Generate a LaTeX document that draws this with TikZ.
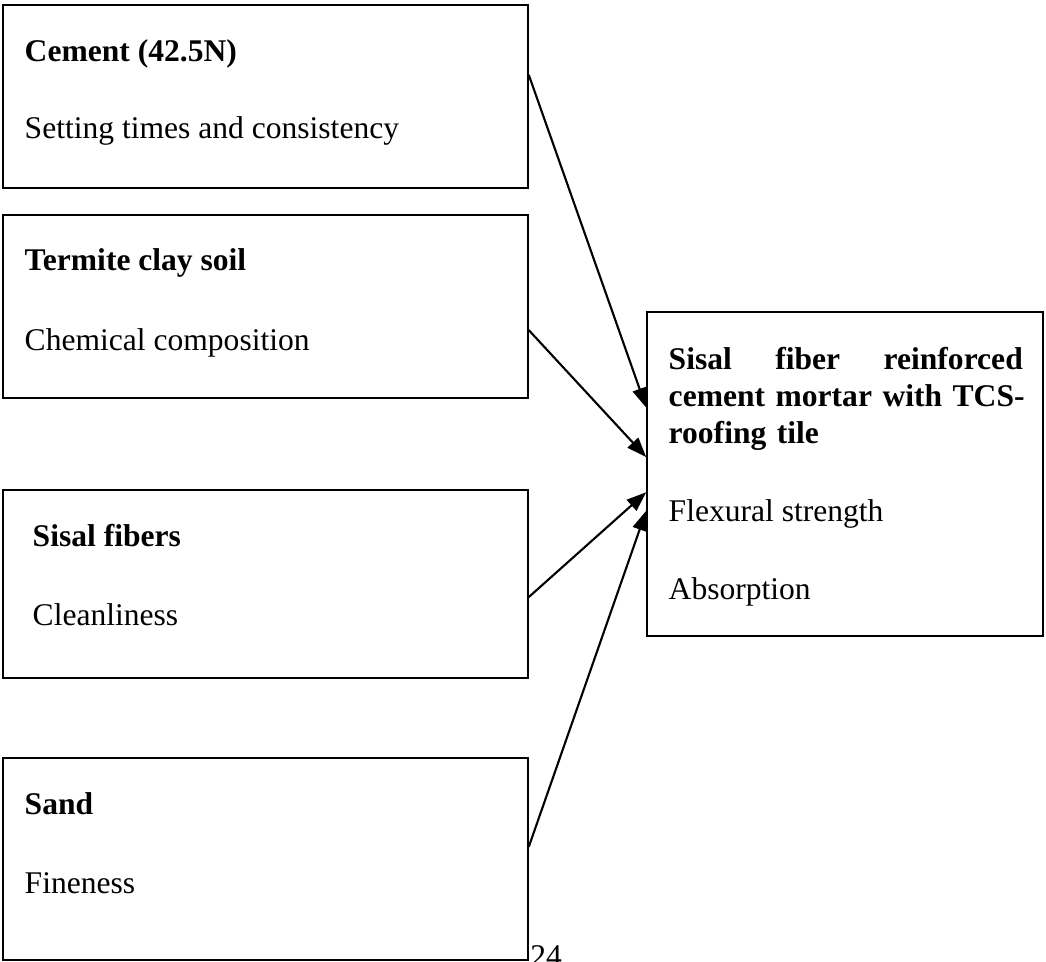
\documentclass[tikz,border=0pt]{standalone}
\usepackage{fontspec}
\setmainfont{Liberation Serif}
\usetikzlibrary{arrows.meta,calc,fit}
\begin{document}
\begin{tikzpicture}[x=0.3802pt,y=-0.3802pt,
    box/.style={draw,line width=0.6pt,inner sep=0pt},
    head/.style={anchor=base west,inner sep=0pt,font=\fontsize{12}{14.07}\selectfont\bfseries},
    item/.style={anchor=base west,inner sep=0pt,font=\fontsize{12}{14.07}\selectfont},
    feed/.style={line width=0.8pt,-{Triangle[length=7.5pt,width=5.5pt]}}]
      \useasboundingbox (0,0) rectangle (1046,962);
      \node[box,fit={(3,5) (528,188)}] (cement) {};
      \node[box,fit={(3,215) (528,398)}] (soil) {};
      \node[box,fit={(3,490) (528,678)}] (fiber) {};
      \node[box,fit={(3,758) (528,960)}] (sand) {};
      \node[box,fit={(647,312) (1043,636)}] (tile) {};
      \node[head] (cementH) at ($(cement.north west)+(22,57)$) {Cement (42.5N)};
      \node[item] (cementT) at ($(cement.north west)+(22,134)$) {Setting times and consistency};
      \node[head] (soilH) at ($(soil.north west)+(22,56)$) {Termite clay soil};
      \node[item] (soilT) at ($(soil.north west)+(22,136)$) {Chemical composition};
      \node[head] (fiberH) at ($(fiber.north west)+(30,57)$) {Sisal fibers};
      \node[item] (fiberT) at ($(fiber.north west)+(30,136)$) {Cleanliness};
      \node[head] (sandH) at ($(sand.north west)+(22,57)$) {Sand};
      \node[item] (sandT) at ($(sand.north west)+(22,136)$) {Fineness};
      \node[head,text width=134.6pt,align=left] (tileH) at ($(tile.north west)+(22,58)$)
        {\leavevmode\hbox to 134.6pt{Sisal\hfill fiber\hfill reinforced}\\\leavevmode\hbox to 134.6pt{cement mortar with TCS-}\\roofing tile};
      \node[item] (tileT) at ($(tile.north west)+(22,210)$) {Flexural strength};
      \node[item] (tileA) at ($(tile.north west)+(22,288)$) {Absorption};
      \node[item] (pagenum) at ($(sand.south east)+(1,6)$) {24};
      \draw[feed] ($(cement.north east)!0.383!(cement.south east)$) -- ($(tile.north west)!0.296!(tile.south west)$);
      \draw[feed] ($(soil.north east)!0.628!(soil.south east)$) -- ($(tile.north west)!0.448!(tile.south west)$);
      \draw[feed] ($(fiber.north east)!0.569!(fiber.south east)$) -- ($(tile.north west)!0.556!(tile.south west)$);
      \draw[feed] ($(sand.north east)!0.44!(sand.south east)$) -- ($(tile.north west)!0.613!(tile.south west)$);
\end{tikzpicture}
\end{document}
